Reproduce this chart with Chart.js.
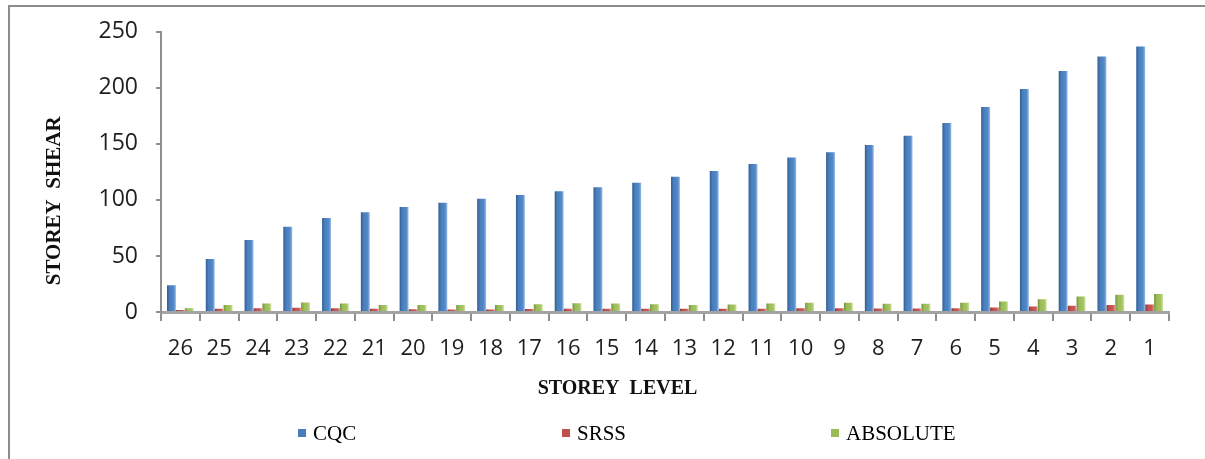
<!DOCTYPE html>
<html>
<head>
<meta charset="utf-8">
<script src="https://cdn.jsdelivr.net/npm/chart.js@4.4.1/dist/chart.umd.min.js"></script>
<style>
  html, body { margin: 0; padding: 0; background: #ffffff; overflow: hidden; }
  #wrap { position: relative; width: 1205px; height: 459px; overflow: hidden; }
  #frame { position: absolute; left: 8px; top: 5px; width: 1300px; height: 600px; border: 2px solid #8c8c8c; box-sizing: border-box; }
  #c { position: absolute; left: 0; top: 0; }
  .lg { position: absolute; top: 423px; height: 21px; line-height: 21px; font-family: "Liberation Serif", "Times New Roman", serif; font-size: 21px; color: #000; white-space: nowrap; }
  .lg i { position: absolute; left: 0; top: 6px; width: 8px; height: 8px; }
  .lg span { position: absolute; left: 15px; top: 0; }
</style>
</head>
<body>
<div id="wrap">
  <div id="frame"></div>
  <canvas id="c" width="1205" height="459"></canvas>
</div>
<script>
// ---- data ----
const levels = ['26','25','24','23','22','21','20','19','18','17','16','15','14','13','12','11','10','9','8','7','6','5','4','3','2','1'];
const cqc = [23.8, 47.3, 64.3, 76, 83.9, 88.9, 93.6, 97.5, 101, 104.5, 107.7, 111.2, 115.3, 120.6, 125.9, 132, 137.8, 142.6, 149, 157.3, 168.7, 183, 199, 215, 228, 236.8];
const srss = [1.8, 2.9, 3.3, 3.8, 3.3, 2.9, 2.5, 2.3, 2.3, 2.6, 3, 3, 2.9, 2.8, 2.8, 3, 3.3, 3.3, 3.2, 3.2, 3.3, 4.1, 5, 5.6, 6.2, 6.7];
const absolute = [3.3, 6.2, 7.6, 8.5, 7.6, 6.2, 6.2, 6.2, 6.2, 7, 7.9, 7.6, 7, 6.2, 6.7, 7.6, 8.2, 8.2, 7.3, 7.3, 8.2, 9.4, 11.4, 13.8, 15.3, 16.1];
const seriesNames = ['CQC', 'SRSS', 'ABSOLUTE'];
const yTicks = [0, 50, 100, 150, 200, 250];

// ---- styles ----
const flat = ['#4a7ebb', '#c0504d', '#9bbb59'];
const stops = [
  ['#2f5d94', '#4a7ebb', '#5289c9', '#9cbde6'],
  ['#8e3532', '#c0504d', '#c95a57', '#e79a97'],
  ['#72923a', '#9bbb59', '#a5c463', '#d0e4a0']
];
function grad(i) {
  return function (ctx) {
    const chart = ctx.chart;
    if (ctx.type !== 'data') return flat[i];
    const el = chart.getDatasetMeta(ctx.datasetIndex).data[ctx.dataIndex];
    if (!el || !isFinite(el.x) || !el.width) return flat[i];
    const x0 = el.x - el.width / 2, x1 = el.x + el.width / 2;
    const g = chart.ctx.createLinearGradient(x0, 0, x1, 0);
    g.addColorStop(0, stops[i][0]);
    g.addColorStop(0.3, stops[i][1]);
    g.addColorStop(0.75, stops[i][2]);
    g.addColorStop(1, stops[i][3]);
    return g;
  };
}

const seriesData = [cqc, srss, absolute];
const datasets = seriesNames.map((n, i) => ({
  label: n,
  data: seriesData[i],
  backgroundColor: grad(i),
  borderWidth: 0,
  categoryPercentage: 0.69,
  barPercentage: 1.0
}));

// spaces pad the titles so they sit where the original placed them
const pad = (n) => ' '.repeat(n);
const axisGray = '#8f8f8f';
const chart = new Chart(document.getElementById('c'), {
  type: 'bar',
  data: { labels: levels, datasets: datasets },
  options: {
    responsive: false,
    animation: false,
    events: [],
    layout: { padding: { left: 0, right: 36, top: 25, bottom: 0 } },
    plugins: { legend: { display: false }, tooltip: { enabled: false } },
    scales: {
      x: {
        grid: { display: true, drawOnChartArea: false, drawTicks: true, tickLength: 9, color: axisGray, lineWidth: 2, offset: true },
        border: { display: true, color: '#a3a3a3', width: 3 },
        ticks: { color: '#1e1e1e', font: { family: '"Open Sans", sans-serif', size: 22 }, padding: 15, maxRotation: 0, autoSkip: false },
        title: { display: true, text: 'STOREY  LEVEL' + pad(19), color: '#111', font: { family: '"Liberation Serif", serif', size: 20, weight: 'bold' }, padding: { top: 0, bottom: 58 } },
        afterFit: (s) => { s.height = 147; }
      },
      y: {
        min: 0, max: 250,
        afterBuildTicks: (s) => { s.ticks = yTicks.map(v => ({ value: v })); },
        grid: { display: true, drawOnChartArea: false, drawTicks: true, tickLength: 5, color: axisGray, lineWidth: 2 },
        border: { display: true, color: axisGray, width: 2 },
        ticks: { color: '#1e1e1e', font: { family: '"Open Sans", sans-serif', size: 23 }, padding: 18 },
        title: { display: true, text: 'STOREY  SHEAR' + pad(11), color: '#111', font: { family: '"Liberation Serif", serif', size: 21, weight: 'bold' }, padding: { top: 42, bottom: 0 } },
        afterFit: (s) => { s.width = 161; }
      }
    }
  }
});
chart.update('none');

// ---- legend (HTML, from datasets) ----
const legendX = [298, 562, 831];
const wrap = document.getElementById('wrap');
chart.data.datasets.forEach((d, i) => {
  const item = document.createElement('div');
  item.className = 'lg';
  item.style.left = legendX[i] + 'px';
  const box = document.createElement('i');
  box.style.background = flat[i];
  const t = document.createElement('span');
  t.textContent = d.label;
  item.appendChild(box);
  item.appendChild(t);
  wrap.appendChild(item);
});
</script>
</body>
</html>
